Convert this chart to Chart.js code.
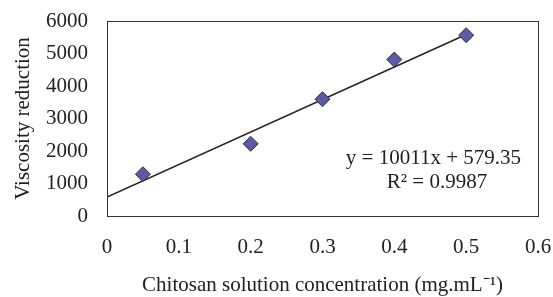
<!DOCTYPE html>
<html>
<head>
<meta charset="utf-8">
<script src="https://cdn.jsdelivr.net/npm/chart.js@4"></script>
<style>
  html, body { margin: 0; padding: 0; background: #fff; }
  #wrap { width: 553px; height: 297px; }
</style>
</head>
<body>
<div id="wrap"><canvas id="chart" width="553" height="297"></canvas></div>
<script>
// measured points
const concentrations = [0.05, 0.2, 0.3, 0.4, 0.5];
const viscosityReduction = [1286, 2222, 3594, 4815, 5563];

// linear trendline from the picture
const slope = 10011;
const intercept = 579.35;
const trendX = [0, 0.5];

const xTicks = [0, 0.1, 0.2, 0.3, 0.4, 0.5, 0.6];
const yTicks = [0, 1000, 2000, 3000, 4000, 5000, 6000];

const serif = "'Liberation Serif', 'Times New Roman', serif";
const ink = '#222';

// frame around the plot + equation text
const framePlugin = {
    id: 'frame',
    afterDraw(chart) {
        const a = chart.chartArea;
        const ctx = chart.ctx;
        ctx.save();
        ctx.strokeStyle = '#333';
        ctx.lineWidth = 1;
        ctx.strokeRect(a.left + 0.5, a.top + 0.5, a.right - a.left, a.bottom - a.top);

        ctx.fillStyle = ink;
        ctx.font = '21px ' + serif;
        ctx.textBaseline = 'middle';
        ctx.textAlign = 'right';
        ctx.fillText('y = 10011x + 579.35', a.right - 17, a.top + 137);
        ctx.textAlign = 'center';
        ctx.fillText('R² = 0.9987', a.right - 101, a.top + 161);
        ctx.restore();
    }
};

new Chart(document.getElementById('chart'), {
    type: 'scatter',
    data: {
        datasets: [{
            label: 'Viscosity reduction',
            data: concentrations.map((x, i) => ({ x: x, y: viscosityReduction[i] })),
            pointStyle: 'rectRot',
            pointRadius: 7.5,
            pointBackgroundColor: '#5a5aa6',
            pointBorderColor: '#333',
            pointBorderWidth: 1,
            order: 1
        }, {
            label: 'Linear',
            type: 'line',
            data: trendX.map(x => ({ x: x, y: slope * x + intercept })),
            borderColor: '#222',
            borderWidth: 1.5,
            pointRadius: 0,
            fill: false,
            order: 2
        }]
    },
    options: {
        responsive: false,
        animation: false,
        layout: { padding: { top: 21, right: 15, left: 0, bottom: 0 } },
        plugins: {
            legend: { display: false },
            tooltip: { enabled: false }
        },
        scales: {
            x: {
                type: 'linear',
                min: 0,
                max: 0.6,
                afterBuildTicks: s => { s.ticks = xTicks.map(v => ({ value: v })); },
                afterFit: s => { s.height = 81; s.paddingLeft = 0; s.paddingRight = 0; },
                grid: { display: false, drawTicks: true, tickLength: 7, tickColor: '#333' },
                border: { display: true, color: '#333', width: 1 },
                ticks: {
                    color: ink,
                    font: { family: serif, size: 21 },
                    padding: 12,
                    maxRotation: 0,
                    callback: v => String(v)
                },
                title: {
                    display: true,
                    text: 'Chitosan solution concentration (mg.mL⁻¹)',
                    color: ink,
                    font: { family: serif, size: 21 },
                    padding: { top: 16, bottom: -1 }
                }
            },
            y: {
                min: 0,
                max: 6000,
                afterBuildTicks: s => { s.ticks = yTicks.map(v => ({ value: v })); },
                afterFit: s => { s.width = 107; s.paddingTop = 0; s.paddingBottom = 0; },
                grid: { display: false, drawTicks: true, tickLength: 7, tickColor: '#333' },
                border: { display: true, color: '#333', width: 1 },
                ticks: {
                    color: ink,
                    font: { family: serif, size: 21 },
                    padding: 12,
                    callback: v => String(v)
                },
                title: {
                    display: true,
                    text: 'Viscosity reduction',
                    color: ink,
                    font: { family: serif, size: 21 },
                    padding: { top: 11, bottom: 4 }
                }
            }
        }
    },
    plugins: [framePlugin]
});
</script>
</body>
</html>
